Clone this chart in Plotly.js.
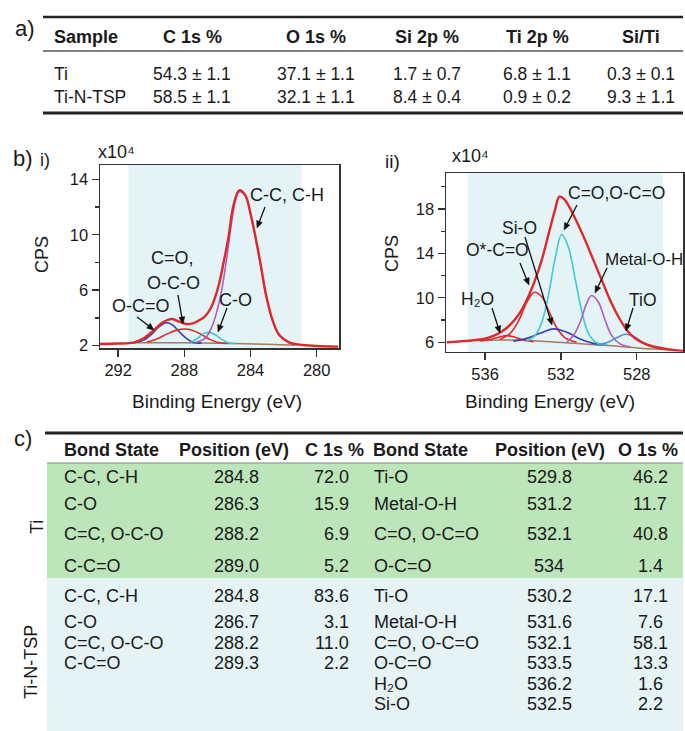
<!DOCTYPE html>
<html><head><meta charset="utf-8">
<script src="https://cdn.plot.ly/plotly-3.0.1.min.js"></script>
<style>html,body{margin:0;padding:0;background:#fff;} #chart{width:685px;height:731px;}</style>
</head><body><div id="chart"></div>
<script>
// ---------- Table a) data ----------
const tableAHeaders = ['Sample','C 1s %','O 1s %','Si 2p %','Ti 2p %','Si/Ti'];
const tableASamples = ['Ti','Ti-N-TSP'];
const tableAC1s = ['54.3 ± 1.1','58.5 ± 1.1'];
const tableAO1s = ['37.1 ± 1.1','32.1 ± 1.1'];
const tableASi2p = ['1.7 ± 0.7','8.4 ± 0.4'];
const tableATi2p = ['6.8 ± 1.1','0.9 ± 0.2'];
const tableASiTi = ['0.3 ± 0.1','9.3 ± 1.1'];

// ---------- b) i) C 1s spectrum (x10^4 CPS) ----------
const c1sEnvE = [293.1,292.0,291.08,290.46,289.95,289.44,289.03,288.72,288.31,287.9,287.49,287.08,286.77,286.36,285.95,285.64,285.33,285.03,284.68,284.31,284.0,283.7,283.38,283.08,282.67,282.26,281.64,280.82,280.0,278.7];
const c1sEnvV = [2.12,2.15,2.22,2.53,3.0,3.56,3.85,3.92,3.73,3.56,3.6,3.85,4.09,4.81,6.24,7.92,9.84,12.12,13.2,12.84,11.52,9.84,7.8,5.77,3.85,2.77,2.22,2.05,1.97,1.93];
const c1sOCOE = [291.08,290.46,289.95,289.54,289.09,288.72,288.31,287.9,287.49,286.97];
const c1sOCOV = [2.2,2.4,2.85,3.35,3.65,3.5,3.0,2.55,2.25,2.18];
const c1sCOE = [290.26,289.64,289.03,288.51,288.0,287.49,286.97,286.46,285.95,285.33];
const c1sCOV = [2.25,2.5,2.85,3.1,3.2,3.1,2.8,2.45,2.22,2.15];
const c1sCOsE = [287.59,287.18,286.87,286.56,286.15,285.74,285.33,284.92];
const c1sCOsV = [2.25,2.55,2.85,2.96,2.8,2.45,2.2,2.15];
const c1sCCE = [287.39,286.77,286.36,286.05,285.74,285.44,285.13,284.88,284.68,284.31,284.0,283.7,283.38,283.08,282.67,282.26,281.64,280.82];
const c1sCCV = [2.2,2.5,3.3,4.4,6.0,8.3,11.0,12.6,13.1,12.8,11.5,9.8,7.8,5.75,3.83,2.75,2.2,2.03];
const c1sBgE = [291.5,288.0,285.0,282.5,281.3];
const c1sBgV = [2.2,2.2,2.15,2.08,2.02];

// ---------- b) ii) O 1s spectrum (x10^4 CPS) ----------
const o1sEnvE = [538.02,536.97,536.09,535.56,535.12,534.68,534.24,533.8,533.36,533.01,532.66,532.31,532.08,531.83,531.52,531.17,530.73,530.29,529.85,529.41,528.97,528.53,528.09,527.56,526.95,526.07,525.54];
const o1sEnvV = [6.0,6.12,6.3,6.57,6.96,7.56,8.46,9.81,11.61,13.41,15.66,17.91,19.11,18.87,18.06,16.86,15.21,13.41,11.61,9.81,8.31,7.11,6.36,5.85,5.55,5.31,5.22];
const o1sH2OE = [536.26,535.74,535.3,534.86,534.42,533.98,533.45];
const o1sH2OV = [6.12,6.25,6.45,6.6,6.45,6.2,6.05];
const o1sOCOE = [535.21,534.68,534.24,533.8,533.4,533.01,532.66,532.22,531.78,531.17];
const o1sOCOV = [6.25,6.8,7.9,9.6,10.5,10.1,8.9,7.3,6.4,6.0];
const o1sSiOE = [534.51,533.8,533.1,532.4,531.69,530.99,530.29,529.59];
const o1sSiOV = [6.1,6.35,6.8,7.2,6.9,6.3,5.9,5.75];
const o1sCOE = [533.8,533.36,533.01,532.66,532.31,531.96,531.61,531.26,530.9,530.55,530.11,529.59];
const o1sCOV = [6.1,6.6,7.8,10.2,13.5,15.7,14.6,11.8,8.8,6.8,5.95,5.75];
const o1sMOHE = [531.69,531.34,530.99,530.64,530.38,530.02,529.67,529.32,528.88,528.35];
const o1sMOHV = [6.0,6.6,7.8,9.5,10.2,9.6,8.0,6.6,5.85,5.6];
const o1sTiOE = [530.11,529.59,529.06,528.62,528.18,527.74,527.21,526.69];
const o1sTiOV = [5.75,5.95,6.4,6.72,6.55,6.05,5.6,5.4];
const o1sBgE = [538.0,536.5,534.9,533.0,531.3,529.5,527.8,526.1];
const o1sBgV = [6.0,6.15,6.2,6.1,5.9,5.7,5.46,5.3];

const c1sTicks = [292,288,284,280];
const o1sTicks = [536,532,528];

// ---------- Table c) data ----------
const tableCHeaders = ['Bond State','Position (eV)','C 1s %','Bond State','Position (eV)','O 1s %'];
const tiBondC = ['C-C, C-H','C-O','C=C, O-C-O','C-C=O'];
const tiPosC = ['284.8','286.3','288.2','289.0'];
const tiPctC = ['72.0','15.9','6.9','5.2'];
const tiBondO = ['Ti-O','Metal-O-H','C=O, O-C=O','O-C=O'];
const tiPosO = ['529.8','531.2','532.1','534'];
const tiPctO = ['46.2','11.7','40.8','1.4'];
const tspBondC = ['C-C, C-H','C-O','C=C, O-C-O','C-C=O'];
const tspPosC = ['284.8','286.7','288.2','289.3'];
const tspPctC = ['83.6','3.1','11.0','2.2'];
const tspBondO = ['Ti-O','Metal-O-H','C=O, O-C=O','O-C=O','H₂O','Si-O'];
const tspPosO = ['530.2','531.6','532.1','533.5','536.2','532.5'];
const tspPctO = ['17.1','7.6','58.1','13.3','1.6','2.2'];

// ---------- layout helpers ----------
const W = 685, H = 731;
const FONT = 'Liberation Sans, Arial, DejaVu Sans, sans-serif';
const TXT = '#1a1a1a';
const px = x => x / W;
const py = y => 1 - y / H;
const annotations = [];
const shapes = [];
function txt(x, y, text, size, xanchor, opts) {
  annotations.push(Object.assign({
    xref: 'paper', yref: 'paper', x: px(x), y: py(y), text: text, showarrow: false,
    xanchor: xanchor || 'center', yanchor: 'middle', borderpad: 0,
    font: {family: FONT, size: size, color: TXT}
  }, opts || {}));
}
function hline(y, x0, x1, w, color) {
  shapes.push({type: 'line', xref: 'paper', yref: 'paper', x0: px(x0), x1: px(x1), y0: py(y), y1: py(y),
    line: {color: color || '#222', width: w}});
}
function rect(x0, y0, x1, y1, color) {
  shapes.push({type: 'rect', xref: 'paper', yref: 'paper', x0: px(x0), x1: px(x1), y0: py(y1), y1: py(y0),
    fillcolor: color, line: {width: 0}, layer: 'below'});
}
// pointer arrow from a label (tail) to a spectral feature (head), in page pixels
function pointer(tx, ty, hx, hy) {
  const dx = hx - tx, dy = hy - ty, L = Math.hypot(dx, dy), ux = dx / L, uy = dy / L;
  const len = 7, half = 3;
  const bx = hx - ux * len, by = hy - uy * len;
  shapes.push({type: 'line', xref: 'paper', yref: 'paper', x0: px(tx), y0: py(ty), x1: px(bx + ux), y1: py(by + uy),
    line: {color: '#111', width: 1.3}});
  const p1x = bx - uy * half, p1y = by + ux * half, p2x = bx + uy * half, p2y = by - ux * half;
  shapes.push({type: 'path', xref: 'paper', yref: 'paper',
    path: 'M ' + px(hx) + ' ' + py(hy) + ' L ' + px(p1x) + ' ' + py(p1y) + ' L ' + px(p2x) + ' ' + py(p2y) + ' Z',
    fillcolor: '#111', line: {color: '#111', width: 0.5}});
}

// ---------- Table a ----------
txt(14, 29, 'a)', 22, 'left');
hline(17, 43, 683, 2.5, '#222');
hline(51, 43, 683, 1.5, '#555');
hline(113, 43, 683, 3, '#222');
const colAx = [53, 192, 316, 427, 537, 641];
tableAHeaders.forEach((h, i) => txt(colAx[i], 37, '<b>' + h + '</b>', 18, i === 0 ? 'left' : 'center'));
const tableACols = [tableASamples, tableAC1s, tableAO1s, tableASi2p, tableATi2p, tableASiTi];
const rowAy = [74, 97];
tableACols.forEach((col, i) => col.forEach((v, r) => txt(colAx[i], rowAy[r], v, 17.5, i === 0 ? 'left' : 'center')));

// ---------- panel b labels ----------
txt(12, 159, 'b)', 22, 'left');
txt(39, 160, 'i)', 18, 'left');
txt(384, 162, 'ii)', 19, 'left');
txt(97, 152, 'x10⁴', 18, 'left');
txt(451, 156, 'x10⁴', 18, 'left');
txt(42, 255, 'CPS', 18, 'center', {textangle: -90});
txt(392, 253, 'CPS', 18, 'center', {textangle: -90});
txt(217, 401, 'Binding Energy (eV)', 19, 'center');
txt(550, 401, 'Binding Energy (eV)', 19, 'center');

// peak labels plot i
txt(287, 195, 'C-C, C-H', 18, 'center');
txt(150, 258, 'C=O,', 18, 'left');
txt(174, 283, 'O-C-O', 18, 'center');
txt(141, 306, 'O-C=O', 18, 'center');
txt(235, 300, 'C-O', 18, 'center');
pointer(265, 207, 257, 228);
pointer(178, 295, 183, 324);
pointer(137, 317, 154, 330);
pointer(227, 308, 218, 332);
// peak labels plot ii
txt(616, 193, 'C=O,O-C=O', 17.5, 'center');
txt(519, 228, 'Si-O', 17.5, 'center');
txt(497, 250, 'O*-C=O', 17.5, 'center');
txt(644, 260, 'Metal-O-H', 17, 'center');
txt(643, 300, 'TiO', 17.5, 'center');
txt(477, 299, 'H₂O', 17.5, 'center');
pointer(577, 205, 564, 230);
pointer(525, 237, 552, 325);
pointer(520, 263, 529, 285);
pointer(607, 268, 595, 293);
pointer(633, 308, 626, 331);
pointer(492, 308, 500, 333);

// shaded fit windows
shapes.push({type: 'rect', xref: 'x', yref: 'y domain', x0: 291.38, x1: 280.92, y0: 0, y1: 1,
  fillcolor: '#e4f4f6', line: {width: 0}, layer: 'below'});
shapes.push({type: 'rect', xref: 'x2', yref: 'y2 domain', x0: 536.91, x1: 526.6, y0: 0, y1: 1,
  fillcolor: '#e4f4f6', line: {width: 0}, layer: 'below'});

// ---------- Table c ----------
txt(13, 439, 'c)', 22, 'left');
hline(433, 45, 683, 3, '#222');
rect(47, 463, 683, 578, '#bce5b9');
rect(47, 578, 683, 731, '#e5f3f5');
hline(463, 47, 683, 1, '#888');
const colCx = [63, 234, 334, 372, 550, 648];
tableCHeaders.forEach((h, i) => txt(colCx[i], 450, '<b>' + h + '</b>', 18, (i === 0 || i === 3) ? 'left' : 'center'));
const tiRowY = [477, 504, 534, 566];
const tspRowY = [596, 622, 642.5, 663, 683.5, 704];
function fillRows(rowsY, bondC, posC, pctC, bondO, posO, pctO) {
  rowsY.forEach((y, r) => {
    if (r < bondC.length) {
      txt(63, y, bondC[r], 18, 'left');
      txt(236, y, posC[r], 18, 'center');
      txt(350, y, pctC[r], 18, 'right');
    }
    txt(373, y, bondO[r], 18, 'left');
    txt(549, y, posO[r], 18, 'center');
    txt(650, y, pctO[r], 18, 'center');
  });
}
fillRows(tiRowY, tiBondC, tiPosC, tiPctC, tiBondO, tiPosO, tiPctO);
fillRows(tspRowY, tspBondC, tspPosC, tspPctC, tspBondO, tspPosO, tspPctO);
txt(37, 527, 'Ti', 18, 'center', {textangle: -90});
txt(31, 662, 'Ti-N-TSP', 18, 'center', {textangle: -90});

// ---------- traces ----------
function tr(x, y, color, width, xa, ya, name) {
  return {type: 'scatter', mode: 'lines', x: x, y: y, xaxis: xa, yaxis: ya, name: name,
    line: {color: color, width: width, shape: 'spline', smoothing: 1}, hoverinfo: 'skip'};
}
const RED = '#e0282c', BLUE = '#3b3db2', CYAN = '#3fc9d1', PURP = '#b05ac6', BROWN = '#a67b5b', LBLUE = '#4f8fd6';
const data = [
  tr(c1sBgE, c1sBgV, BROWN, 1.5, 'x', 'y', 'Background'),
  tr(c1sOCOE, c1sOCOV, BLUE, 1.6, 'x', 'y', 'O-C=O'),
  tr(c1sCOE, c1sCOV, RED, 1.6, 'x', 'y', 'C=O, O-C-O'),
  tr(c1sCOsE, c1sCOsV, CYAN, 1.6, 'x', 'y', 'C-O'),
  tr(c1sCCE, c1sCCV, PURP, 1.6, 'x', 'y', 'C-C, C-H'),
  tr(c1sEnvE, c1sEnvV, RED, 2.4, 'x', 'y', 'Envelope'),
  tr(o1sBgE, o1sBgV, BROWN, 1.5, 'x2', 'y2', 'Background'),
  tr(o1sH2OE, o1sH2OV, RED, 1.6, 'x2', 'y2', 'H2O'),
  tr(o1sOCOE, o1sOCOV, RED, 1.6, 'x2', 'y2', 'O*-C=O'),
  tr(o1sSiOE, o1sSiOV, BLUE, 1.6, 'x2', 'y2', 'Si-O'),
  tr(o1sCOE, o1sCOV, CYAN, 1.6, 'x2', 'y2', 'C=O,O-C=O'),
  tr(o1sMOHE, o1sMOHV, PURP, 1.6, 'x2', 'y2', 'Metal-O-H'),
  tr(o1sTiOE, o1sTiOV, LBLUE, 1.6, 'x2', 'y2', 'TiO'),
  tr(o1sEnvE, o1sEnvV, RED, 2.4, 'x2', 'y2', 'Envelope')
];

const axBase = {showgrid: false, zeroline: false, showline: true, mirror: true, linecolor: '#333', linewidth: 1.5,
  ticks: 'outside', ticklen: 7, tickwidth: 1.4, tickcolor: '#333',
  tickfont: {family: FONT, size: 16.5, color: TXT}, fixedrange: true};
const layout = {
  width: W, height: H, margin: {l: 0, r: 0, t: 0, b: 0}, showlegend: false,
  paper_bgcolor: '#fff', plot_bgcolor: '#fff', hovermode: false,
  xaxis: Object.assign({}, axBase, {domain: [px(100), px(339)], range: [293.1, 278.65], tickvals: c1sTicks, anchor: 'y'}),
  yaxis: Object.assign({}, axBase, {domain: [py(348), py(165)], range: [1.83, 15.03], tick0: 2, dtick: 4, anchor: 'x',
    minor: {ticks: 'outside', ticklen: 4, tickwidth: 1.2, tickcolor: '#333', dtick: 2, tick0: 0}}),
  xaxis2: Object.assign({}, axBase, {domain: [px(446), px(683)], range: [538.06, 525.56], tickvals: o1sTicks, anchor: 'y2'}),
  yaxis2: Object.assign({}, axBase, {domain: [py(351.7), py(173.3)], range: [5.15, 21.2], tick0: 2, dtick: 4, anchor: 'x2',
    minor: {ticks: 'outside', ticklen: 4, tickwidth: 1.2, tickcolor: '#333', dtick: 2, tick0: 0}}),
  annotations: annotations,
  shapes: shapes
};
Plotly.newPlot('chart', data, layout, {displayModeBar: false, staticPlot: true});
</script></body></html>
